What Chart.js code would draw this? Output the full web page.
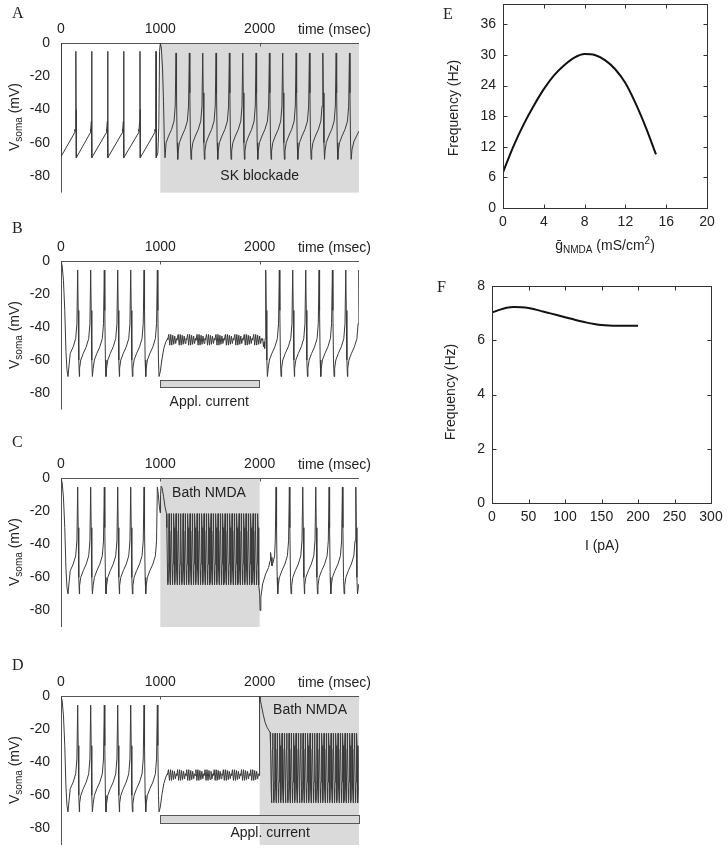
<!DOCTYPE html>
<html>
<head>
<meta charset="utf-8">
<script src="https://cdn.jsdelivr.net/npm/chart.js@4/dist/chart.umd.min.js"></script>
<style>
  body { margin: 0; width: 728px; height: 849px; overflow: hidden; background: #fff; position: relative;
         font-family: "Liberation Sans", Arial, sans-serif; color: #222; }
  canvas { position: absolute; }
  .letter { position: absolute; font-family: "Liberation Serif", serif; font-size: 16px; line-height: 16px; }
  .ytitle { position: absolute; font-size: 14px; white-space: nowrap; transform: translate(-50%, -50%) rotate(-90deg); }
  .xtitle { position: absolute; font-size: 14px; white-space: nowrap; transform: translate(-50%, -50%); }
  sub { font-size: 10px; vertical-align: -3px; line-height: 0; }
  sup { font-size: 10px; vertical-align: 6px; line-height: 0; }
</style>
</head>
<body>
<canvas id="chartA" width="380" height="210" style="left:0;top:0"></canvas>
<canvas id="chartB" width="380" height="210" style="left:0;top:218px"></canvas>
<canvas id="chartC" width="380" height="210" style="left:0;top:435px"></canvas>
<canvas id="chartD" width="380" height="196" style="left:0;top:653px"></canvas>
<canvas id="chartE" width="328" height="260" style="left:400px;top:0"></canvas>
<canvas id="chartF" width="328" height="300" style="left:400px;top:270px"></canvas>

<div class="letter" style="left:12px;top:5px">A</div>
<div class="letter" style="left:12px;top:220px">B</div>
<div class="letter" style="left:12px;top:434px">C</div>
<div class="letter" style="left:12px;top:657px">D</div>
<div class="letter" style="left:443px;top:6px">E</div>
<div class="letter" style="left:437px;top:279px">F</div>

<div class="ytitle" style="left:14px;top:117px">V<sub>soma</sub> (mV)</div>
<div class="ytitle" style="left:14px;top:335px">V<sub>soma</sub> (mV)</div>
<div class="ytitle" style="left:14px;top:552px">V<sub>soma</sub> (mV)</div>
<div class="ytitle" style="left:14px;top:770px">V<sub>soma</sub> (mV)</div>
<div class="ytitle" style="left:453px;top:108px">Frequency (Hz)</div>
<div class="ytitle" style="left:450px;top:392px">Frequency (Hz)</div>
<div class="xtitle" style="left:605px;top:245px">g&#772;<sub>NMDA</sub> (mS/cm<sup>2</sup>)</div>
<div class="xtitle" style="left:602px;top:545px">I (pA)</div>

<script>
// axis ticks
const timeTicks = [0, 1000, 2000];
const vTicks = [0, -20, -40, -60, -80];
const eXTicks = [0, 4, 8, 12, 16, 20];
const eYTicks = [0, 6, 12, 18, 24, 30, 36];
const fXTicks = [0, 50, 100, 150, 200, 250, 300];
const fYTicks = [0, 2, 4, 6, 8];

// spike waveforms, [ms relative to spike peak, mV]
const fallSharp = [[1, -40], [3, -69]];
const riseSharp = [[-14, -54], [-12, -52], [-10, -53], [-3, -47]];
const fallCurvy = [[5, -30], [11, -60], [17, -70]];
const riseCurvy = [[-112, -65], [-100, -60], [-75, -56], [-45, -52], [-20, -47], [-8, -38]];
const fallNmda = [[3, -30], [8, -56], [11, -64.5]];
const riseNmda = [[-11, -63], [-7, -52], [-3, -32]];
// one beat of the subthreshold oscillation under applied current, [ms from beat start, mV]
const subBeat = [[0, -47.5], [10, -44.5], [20, -51], [30, -44.5], [40, -51], [50, -45], [60, -50.5],
                 [70, -45.5], [80, -50], [88, -47], [94, -48]];

// A: control then SK blockade
const startA = [[0, 0], [2, -40], [5, -68]];
const spikesA = [151, 309, 470, 631, 795, 957];
const skOnsetA = [[975, -66], [985, -50], [992, -5], [1000, 0], [1010, -3], [1022, -15], [1032, -35], [1040, -58], [1047, -69]];
const spikesSkA = [1158, 1292, 1427, 1561, 1695, 1830, 1964, 2098, 2232, 2367, 2501, 2636, 2770, 2904];
const endA = [[2930, -64], [2950, -59], [2975, -56], [3000, -53]];

// B, C, D share the control period
const startCtl = [[0, 0], [12, -3], [25, -12], [38, -30], [50, -55], [60, -66], [70, -70]];
const spikesCtl = [168, 299, 436, 571, 702, 836, 970];

// B: applied current 1000-2000
const curOnB = [[1000, -67], [1015, -60], [1035, -53], [1055, -49], [1074, -47]];
const beatsB = [1075, 1170, 1265, 1360, 1455, 1550, 1645, 1740, 1835, 1930];
const curOffB = [[2030, -47], [2038, -52], [2044, -49], [2050, -53], [2055, -47]];
const spikesPostB = [2061, 2198, 2333, 2464, 2598, 2732, 2867, 2999];

// C: bath NMDA 1000-2000
const nmdaOnC = [[970, -5.5], [980, -10], [990, -17], [998, -21], [1002, -10], [1008, -5], [1018, -6], [1032, -11], [1046, -17], [1062, -21.5]];
const nmdaC = [1064, 1088, 1111, 1135, 1158, 1182, 1205, 1229, 1252, 1276, 1299, 1323, 1346, 1370, 1393, 1417,
               1440, 1464, 1487, 1511, 1534, 1558, 1581, 1605, 1628, 1652, 1675, 1699, 1722, 1746, 1769, 1793,
               1816, 1840, 1863, 1887, 1910, 1934, 1957, 1981];
const nmdaOffC = [[2000, -70], [2004, -80], [2012, -72], [2030, -64], [2060, -58], [2090, -54], [2105, -50],
                  [2110, -45], [2116, -48], [2124, -53], [2135, -51], [2150, -47]];
const spikesPostC = [2165, 2299, 2434, 2565, 2699, 2833, 2968];
const endC = [[2993, -66], [3000, -64]];

// D: applied current from 1000, NMDA from 2000
const curOnD = [[1000, -67], [1015, -60], [1035, -53], [1055, -49], [1071, -47]];
const beatsD = [1072, 1164, 1256, 1348, 1440, 1532, 1624, 1716, 1808, 1900];
const nmdaOnD = [[1998, -48], [2000, 0], [2015, -5], [2035, -11], [2055, -16], [2075, -19], [2095, -21], [2105, -22]];
const nmdaD = [2108, 2131, 2155, 2178, 2202, 2225, 2249, 2272, 2296, 2319, 2343, 2366, 2390, 2413, 2437, 2460,
               2484, 2507, 2531, 2554, 2578, 2601, 2625, 2648, 2672, 2695, 2719, 2742, 2766, 2789, 2813, 2836,
               2860, 2883, 2907, 2930, 2954, 2977];
const endD = [[2994, -55], [2998, -38], [3000, -30]];

// E: frequency vs NMDA conductance
const eX = [0, 1, 2, 3, 4, 5, 6, 7, 8, 9, 10, 11, 12, 13, 14, 15];
const eY = [7, 12, 16.3, 20, 23.3, 26, 28, 29.5, 30.2, 30, 29, 27.2, 24.5, 20.5, 15.8, 10.5];

// F: frequency vs applied current
const fX = [0, 10, 20, 30, 40, 50, 60, 70, 80, 90, 100, 110, 120, 130, 140, 150, 160, 170, 180, 190, 200];
const fY = [7.02, 7.12, 7.2, 7.23, 7.22, 7.19, 7.13, 7.06, 6.99, 6.92, 6.85, 6.78, 6.71, 6.65, 6.6, 6.56, 6.54, 6.53, 6.53, 6.53, 6.53];

// trace assembly helpers
function addPoints(pts, list, t0 = 0) {
  list.forEach(([dt, v]) => {
    const x = t0 + dt;
    if (!pts.length || x > pts[pts.length - 1].x) pts.push({x: x, y: v});
  });
}
function addSpikes(pts, times, peak, fall, rise) {
  times.forEach(t => {
    addPoints(pts, rise, t);
    addPoints(pts, [[0, peak]], t);
    addPoints(pts, fall, t);
  });
}
function addBeats(pts, starts) {
  starts.forEach(t => addPoints(pts, subBeat, t));
}

const traceA = [];
addPoints(traceA, startA);
addSpikes(traceA, spikesA, -5, fallSharp, riseSharp);
addPoints(traceA, skOnsetA);
addSpikes(traceA, spikesSkA, -6, fallCurvy, riseCurvy);
addPoints(traceA, endA);

const traceB = [];
addPoints(traceB, startCtl);
addSpikes(traceB, spikesCtl, -5.5, fallCurvy, riseCurvy);
addPoints(traceB, curOnB);
addBeats(traceB, beatsB);
addPoints(traceB, curOffB);
addSpikes(traceB, spikesPostB, -5.5, fallCurvy, riseCurvy);

const traceC = [];
addPoints(traceC, startCtl);
addSpikes(traceC, spikesCtl.slice(0, -1), -5.5, fallCurvy, riseCurvy);
addPoints(traceC, riseCurvy, spikesCtl[spikesCtl.length - 1]);
addPoints(traceC, nmdaOnC);
addSpikes(traceC, nmdaC, -21.5, fallNmda, riseNmda);
addPoints(traceC, nmdaOffC);
addSpikes(traceC, spikesPostC, -5.5, fallCurvy, riseCurvy);
addPoints(traceC, endC);

const traceD = [];
addPoints(traceD, startCtl);
addSpikes(traceD, spikesCtl, -5.5, fallCurvy, riseCurvy);
addPoints(traceD, curOnD);
addBeats(traceD, beatsD);
addPoints(traceD, nmdaOnD);
addSpikes(traceD, nmdaD, -22.5, fallNmda, riseNmda);
addPoints(traceD, endD);

const FONT = '"Liberation Sans", Arial, sans-serif';
const tickFont = {family: FONT, size: 14};

// shading, current bars, axis lines and labels of a voltage trace panel
function tracePlugin(ann) {
  return {
    id: 'tracePanel',
    beforeDatasetsDraw(chart) {
      const {ctx, chartArea: a, scales: {x, y}} = chart;
      ctx.save();
      ctx.fillStyle = '#dadada';
      (ann.shade || []).forEach(([t0, t1]) => {
        const x0 = x.getPixelForValue(t0), x1 = x.getPixelForValue(t1);
        ctx.fillRect(x0, a.top, x1 - x0, a.bottom - a.top);
      });
      (ann.bars || []).forEach(([t0, t1, v0, v1]) => {
        const x0 = x.getPixelForValue(t0), x1 = x.getPixelForValue(t1);
        const y0 = y.getPixelForValue(v0), y1 = y.getPixelForValue(v1);
        ctx.fillStyle = '#d8d8d8';
        ctx.fillRect(x0, y0, x1 - x0, y1 - y0);
        ctx.strokeStyle = '#555';
        ctx.lineWidth = 1;
        ctx.strokeRect(Math.round(x0) + 0.5, Math.round(y0) + 0.5, Math.round(x1 - x0), Math.round(y1 - y0));
      });
      // axes: left and top
      ctx.strokeStyle = '#555';
      ctx.lineWidth = 1;
      ctx.beginPath();
      const l = Math.round(a.left) + 0.5, t = Math.round(a.top) + 0.5;
      ctx.moveTo(l, a.bottom);
      ctx.lineTo(l, t);
      ctx.lineTo(a.right, t);
      timeTicks.forEach(v => {
        const px = Math.round(x.getPixelForValue(v)) + 0.5;
        ctx.moveTo(px, t);
        ctx.lineTo(px, t + 3);
      });
      ctx.stroke();
      ctx.fillStyle = '#222';
      ctx.font = '14px ' + FONT;
      ctx.textBaseline = 'middle';
      ctx.textAlign = 'right';
      ctx.fillText('time (msec)', a.right + 12, a.top - 13);
      ctx.textAlign = 'center';
      (ann.labels || []).forEach(([text, tv, vv]) => {
        ctx.fillText(text, x.getPixelForValue(tv), y.getPixelForValue(vv));
      });
      ctx.restore();
    }
  };
}

// closed frame with inward ticks on all sides
const framePlugin = {
  id: 'frame',
  afterDatasetsDraw(chart) {
    const {ctx, chartArea: a, scales: {x, y}} = chart;
    ctx.save();
    ctx.strokeStyle = '#333';
    ctx.lineWidth = 1;
    const l = Math.round(a.left) + 0.5, r = Math.round(a.right) + 0.5;
    const t = Math.round(a.top) + 0.5, b = Math.round(a.bottom) + 0.5;
    ctx.strokeRect(l, t, r - l, b - t);
    ctx.beginPath();
    x.ticks.forEach(tk => {
      const px = Math.round(x.getPixelForValue(tk.value)) + 0.5;
      ctx.moveTo(px, b); ctx.lineTo(px, b - 4);
      ctx.moveTo(px, t); ctx.lineTo(px, t + 4);
    });
    y.ticks.forEach(tk => {
      const py = Math.round(y.getPixelForValue(tk.value)) + 0.5;
      ctx.moveTo(l, py); ctx.lineTo(l + 4, py);
      ctx.moveTo(r, py); ctx.lineTo(r - 4, py);
    });
    ctx.stroke();
    ctx.restore();
  }
};

function fixedTicks(vals) {
  return scale => { scale.ticks = vals.map(v => ({value: v})); };
}
// fixed axis size, and no extra room for overhanging tick labels
function fixedWidth(w) {
  return s => { s.width = w; s.paddingTop = 0; s.paddingBottom = 0; };
}
function fixedHeight(h) {
  return s => { s.height = h; s.paddingLeft = 0; s.paddingRight = 0; };
}

function traceChart(id, points, ann, padBottom) {
  return new Chart(document.getElementById(id), {
    type: 'line',
    data: {datasets: [{data: points, borderColor: '#3a3a3a', borderWidth: 1, pointRadius: 0, tension: 0}]},
    options: {
      responsive: false,
      animation: false,
      events: [],
      layout: {padding: {top: 0, right: 21, bottom: padBottom, left: 0}},
      plugins: {legend: {display: false}, tooltip: {enabled: false}},
      scales: {
        x: {
          type: 'linear', position: 'top', min: 0, max: 3000,
          afterBuildTicks: fixedTicks(timeTicks),
          afterFit: fixedHeight(43),
          grid: {display: false, drawTicks: false}, border: {display: false},
          ticks: {font: tickFont, color: '#222', padding: 5, maxRotation: 0, autoSkip: false, callback: v => String(v)}
        },
        y: {
          type: 'linear', min: -90, max: 0,
          afterBuildTicks: fixedTicks(vTicks),
          afterFit: fixedWidth(61),
          grid: {display: false, drawTicks: false}, border: {display: false},
          ticks: {font: tickFont, color: '#222', padding: 11, autoSkip: false, callback: v => String(v)}
        }
      }
    },
    plugins: [tracePlugin(ann)]
  });
}

traceChart('chartA', traceA, {shade: [[1000, 3000]], labels: [['SK blockade', 2000, -80]]}, 17.4);
traceChart('chartB', traceB, {bars: [[1000, 2000, -72.1, -76.5]], labels: [['Appl. current', 1493, -85.3]]}, 18.5);
traceChart('chartC', traceC, {shade: [[1000, 2000]], labels: [['Bath NMDA', 1490, -9.2]]}, 18);
traceChart('chartD', traceD, {shade: [[2000, 3000]], bars: [[1000, 3000, -71.9, -76.6]],
  labels: [['Bath NMDA', 2507, -8.5], ['Appl. current', 2105, -83]]}, 4);

function curveChart(id, xs, ys, xr, yr, xt, yt, pad, yWidth, xHeight) {
  return new Chart(document.getElementById(id), {
    type: 'line',
    data: {datasets: [{data: xs.map((v, i) => ({x: v, y: ys[i]})), borderColor: '#111', borderWidth: 2,
      pointRadius: 0, cubicInterpolationMode: 'monotone'}]},
    options: {
      responsive: false,
      animation: false,
      events: [],
      layout: {padding: pad},
      plugins: {legend: {display: false}, tooltip: {enabled: false}},
      scales: {
        x: {
          type: 'linear', min: xr[0], max: xr[1],
          afterBuildTicks: fixedTicks(xt),
          afterFit: fixedHeight(xHeight),
          grid: {display: false, drawTicks: false}, border: {display: false},
          ticks: {font: {family: FONT, size: 14}, color: '#222', padding: 6, maxRotation: 0, autoSkip: false, callback: v => String(v)}
        },
        y: {
          type: 'linear', min: yr[0], max: yr[1],
          afterBuildTicks: fixedTicks(yt),
          afterFit: fixedWidth(yWidth),
          grid: {display: false, drawTicks: false}, border: {display: false},
          ticks: {font: {family: FONT, size: 14}, color: '#222', padding: 7, autoSkip: false, callback: v => String(v)}
        }
      }
    },
    plugins: [framePlugin]
  });
}

curveChart('chartE', eX, eY, [0, 20], [0, 40], eXTicks, eYTicks, {top: 4, right: 21, bottom: 0, left: 0}, 103, 52);
curveChart('chartF', fX, fY, [0, 300], [0, 8], fXTicks, fYTicks, {top: 16, right: 17, bottom: 0, left: 0}, 92, 67);
</script>
</body>
</html>
